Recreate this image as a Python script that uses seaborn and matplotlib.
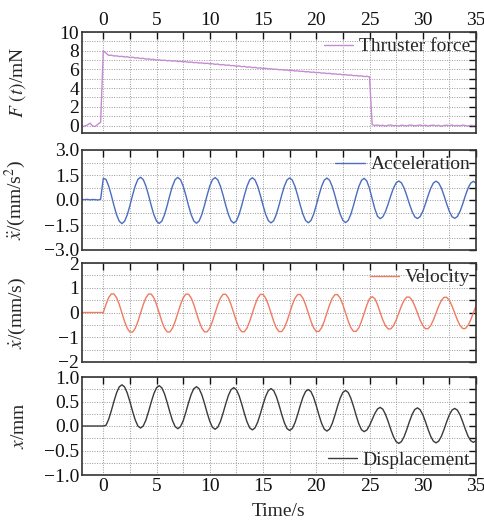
import matplotlib
matplotlib.use("Agg")
import matplotlib.pyplot as plt
import matplotlib.ticker as mtick
import numpy as np
import pandas as pd
import seaborn as sb

# time grid of the recorded traces (s)
T_START, T_STOP, T_STEP = -2.0, 35.0, 0.25

# thruster force, mN
force_mN = [
    -0.15, -0.05, 0.05, 0.25, -0.05, -0.10, 0.15, 0.35,
    8.00, 7.75, 7.50, 7.52, 7.44, 7.45, 7.38, 7.40, 7.33, 7.35, 7.27, 7.30,
    7.22, 7.24, 7.16, 7.19, 7.10, 7.13, 7.06, 7.07, 7.00, 7.03, 6.96, 6.99,
    6.92, 6.95, 6.88, 6.92, 6.84, 6.87, 6.80, 6.83, 6.76, 6.79, 6.72, 6.74,
    6.68, 6.70, 6.63, 6.66, 6.60, 6.61, 6.54, 6.57, 6.49, 6.52, 6.44, 6.47,
    6.40, 6.41, 6.34, 6.37, 6.29, 6.32, 6.24, 6.27, 6.19, 6.22, 6.14, 6.16,
    6.10, 6.12, 6.05, 6.07, 6.01, 6.03, 5.96, 5.98, 5.92, 5.94, 5.87, 5.89,
    5.83, 5.85, 5.78, 5.80, 5.74, 5.76, 5.69, 5.71, 5.65, 5.67, 5.60, 5.62,
    5.56, 5.58, 5.51, 5.53, 5.47, 5.49, 5.42, 5.44, 5.38, 5.40, 5.33, 5.35,
    5.29, 5.31, 5.24, 5.26, 5.20, 0.10, 0.00, 0.05, -0.02,
    0.03, -0.05, 0.02, 0.06, -0.03, 0.01, -0.06, 0.04, 0.00, -0.04,
    0.05, 0.02, -0.03, 0.00, 0.06, -0.02, 0.03, -0.05, 0.01, 0.04,
    -0.03, 0.02, -0.06, 0.00, 0.03, -0.02, 0.05, -0.04, 0.01, -0.03,
    0.04, 0.00, -0.05, 0.02, -0.01, 0.03,
]

# acceleration, mm/s^2
accel = [
    0.03, 0.02, 0.04, 0.01, 0.03, 0.02, 0.00, 0.05,
    1.300, 1.237, 0.849, 0.291, -0.331, -0.889, -1.277, -1.415, -1.277, -0.889, -0.331, 0.291, 0.849, 1.237,
    1.365, 1.228, 0.843, 0.289, -0.329, -0.883, -1.268, -1.405, -1.268, -0.883, -0.329, 0.289, 0.843, 1.228,
    1.355, 1.219, 0.837, 0.287, -0.327, -0.877, -1.259, -1.395, -1.259, -0.877, -0.327, 0.287, 0.837, 1.219,
    1.345, 1.210, 0.830, 0.284, -0.324, -0.870, -1.250, -1.385, -1.250, -0.870, -0.324, 0.284, 0.830, 1.210,
    1.335, 1.201, 0.824, 0.282, -0.322, -0.864, -1.241, -1.375, -1.241, -0.864, -0.322, 0.282, 0.824, 1.201,
    1.325, 1.192, 0.818, 0.280, -0.320, -0.858, -1.232, -1.365, -1.232, -0.858, -0.320, 0.280, 0.818, 1.192,
    1.315, 1.183, 0.812, 0.278, -0.318, -0.852, -1.223, -1.355, -1.223, -0.852, -0.318, 0.278, 0.812, 1.183,
    1.300, 1.137, 0.690, 0.080, -0.530, -0.977,
    -1.120, -1.008, -0.694, -0.242, 0.262, 0.714, 1.028, 1.140, 1.028, 0.714, 0.262, -0.242, -0.694, -1.008,
    -1.110, -0.999, -0.688, -0.240, 0.260, 0.708, 1.019, 1.130, 1.019, 0.708, 0.260, -0.240, -0.688, -0.999,
    -1.100, -0.990, -0.682, -0.238, 0.258, 0.702, 1.010, 1.120, 1.010,
]

# velocity, mm/s
velocity = [
    0.0, 0.0, 0.0, 0.0, 0.0, 0.0, 0.0, 0.0,
    0.000, 0.323, 0.598, 0.750, 0.750, 0.598, 0.323, -0.020, -0.363, -0.638, -0.790, -0.790, -0.638, -0.363,
    -0.020, 0.321, 0.594, 0.745, 0.745, 0.594, 0.321, -0.020, -0.361, -0.634, -0.785, -0.785, -0.634, -0.361,
    -0.020, 0.319, 0.590, 0.741, 0.741, 0.590, 0.319, -0.020, -0.359, -0.630, -0.781, -0.781, -0.630, -0.359,
    -0.020, 0.316, 0.586, 0.736, 0.736, 0.586, 0.316, -0.020, -0.356, -0.626, -0.776, -0.776, -0.626, -0.356,
    -0.020, 0.314, 0.582, 0.731, 0.731, 0.582, 0.314, -0.020, -0.354, -0.622, -0.771, -0.771, -0.622, -0.354,
    -0.020, 0.312, 0.578, 0.726, 0.726, 0.578, 0.312, -0.020, -0.352, -0.618, -0.766, -0.766, -0.618, -0.352,
    -0.020, 0.310, 0.574, 0.721, 0.721, 0.574, 0.310, -0.020, -0.350, -0.614, -0.761, -0.761, -0.614, -0.350,
    -0.020, 0.300, 0.560, 0.640, 0.560, 0.320,
    0.000, -0.306, -0.536, -0.664, -0.664, -0.536, -0.306, -0.020, 0.266, 0.496, 0.624, 0.624, 0.496, 0.266,
    -0.020, -0.302, -0.528, -0.654, -0.654, -0.528, -0.302, -0.020, 0.262, 0.488, 0.614, 0.614, 0.488, 0.262,
    -0.020, -0.300, -0.524, -0.649, -0.649, -0.524, -0.300, -0.020, 0.260,
]

# displacement, mm
displacement = [
    0.0, 0.0, 0.0, 0.0, 0.0, 0.0, 0.0, 0.0,
    0.000, 0.013, 0.134, 0.309, 0.503, 0.678, 0.799, 0.841, 0.797, 0.673, 0.497, 0.300, 0.123, 0.000,
    -0.042, 0.000, 0.120, 0.294, 0.487, 0.661, 0.781, 0.823, 0.778, 0.656, 0.480, 0.285, 0.109, -0.013,
    -0.055, -0.013, 0.106, 0.279, 0.471, 0.643, 0.762, 0.802, 0.760, 0.638, 0.464, 0.270, 0.095, -0.026,
    -0.067, -0.025, 0.093, 0.264, 0.454, 0.625, 0.743, 0.783, 0.741, 0.620, 0.447, 0.255, 0.082, -0.039,
    -0.079, -0.038, 0.080, 0.249, 0.438, 0.606, 0.724, 0.764, 0.722, 0.602, 0.431, 0.240, 0.069, -0.052,
    -0.091, -0.051, 0.066, 0.234, 0.421, 0.589, 0.706, 0.744, 0.703, 0.584, 0.414, 0.225, 0.055, -0.064,
    -0.104, -0.063, 0.052, 0.219, 0.404, 0.571, 0.686, 0.725, 0.684, 0.566, 0.398, 0.210, 0.041, -0.077,
    -0.115, -0.082, 0.009, 0.133, 0.256, 0.347,
    0.380, 0.342, 0.239, 0.092, -0.072, -0.218, -0.319, -0.355, -0.318, -0.217, -0.071, 0.091, 0.236, 0.336,
    0.370, 0.333, 0.233, 0.090, -0.070, -0.212, -0.310, -0.344, -0.308, -0.210, -0.069, 0.089, 0.229, 0.326,
    0.359, 0.324, 0.227, 0.087, -0.067, -0.206, -0.300, -0.334, -0.299,
]

time_s = np.arange(T_START, T_STOP + T_STEP / 2, T_STEP)

df = pd.DataFrame({
    "Time": time_s,
    "force": force_mN,
    "accel": accel,
    "vel": velocity,
    "disp": displacement,
})

sb.set_theme(style="white")
plt.rcParams["font.family"] = ["Liberation Serif", "DejaVu Serif"]
plt.rcParams["mathtext.fontset"] = "stix"
plt.rcParams["font.size"] = 14

fig = plt.figure(figsize=(4.85, 5.25), dpi=100)

# panel boxes in pixels: (top, bottom)
left_px, right_px = 82, 476
boxes = [(32, 133), (150, 250), (263, 362), (377, 475)]

panels = [
    ("force", "Thruster force", "#c58ccf", r"$F\ (t)$/mN", (-0.8, 10), 2, 1, "upper right", "{:.0f}"),
    ("accel", "Acceleration", "#4a6dbf", r"$\ddot{x}$/(mm/s$^2$)", (-3, 3), 1.5, 0.75, "upper right", "{:.1f}"),
    ("vel", "Velocity", "#f07a62", r"$\dot{x}$/(mm/s)", (-2, 2), 1, 0.5, "upper right", "{:.0f}"),
    ("disp", "Displacement", "#3a3a3a", r"$x$/mm", (-1, 1), 0.5, 0.25, "lower right", "{:.1f}"),
]

axes = []
for i, (col, label, color, ylabel, ylim, major, minor, loc, fmt) in enumerate(panels):
    top, bot = boxes[i]
    ax = fig.add_axes([left_px / 485, 1 - bot / 525, (right_px - left_px) / 485, (bot - top) / 525])
    sb.lineplot(data=df, x="Time", y=col, ax=ax, color=color, lw=1.0, label=label)
    ax.set_xlim(-2, 35)
    ax.set_ylim(*ylim)
    ax.xaxis.set_major_locator(mtick.MultipleLocator(5))
    ax.xaxis.set_minor_locator(mtick.MultipleLocator(2.5))
    ax.yaxis.set_major_locator(mtick.MultipleLocator(major))
    ax.yaxis.set_minor_locator(mtick.MultipleLocator(minor))
    ax.yaxis.set_major_formatter(mtick.FuncFormatter(lambda v, p, f=fmt: f.format(v).replace("-", "\u2212")))
    ax.grid(True, which="both", color="#9a9a9a", linestyle=(0, (1, 1.5)), lw=0.7)
    ax.tick_params(which="both", direction="in", length=5, width=1.0, top=True, right=True,
                   colors="#111111", labelsize=14, pad=2)
    for s in ax.spines.values():
        s.set_color("#333333")
        s.set_linewidth(1.2)
    ax.set_ylabel(ylabel, fontsize=14)
    ax.yaxis.set_label_coords(-0.138, 0.5)
    if i == 0:
        ax.tick_params(labeltop=True, labelbottom=False)
    elif i < 3:
        ax.tick_params(labelbottom=False)
    ax.set_xlabel("")
    ax.legend(loc=loc, frameon=False, fontsize=14, handlelength=1.5, handletextpad=0.3,
              borderaxespad=0.1, borderpad=0.2)
    axes.append(ax)

axes[-1].set_xlabel("Time/s", fontsize=14, labelpad=6)

fig.savefig("out.png", dpi=100)
